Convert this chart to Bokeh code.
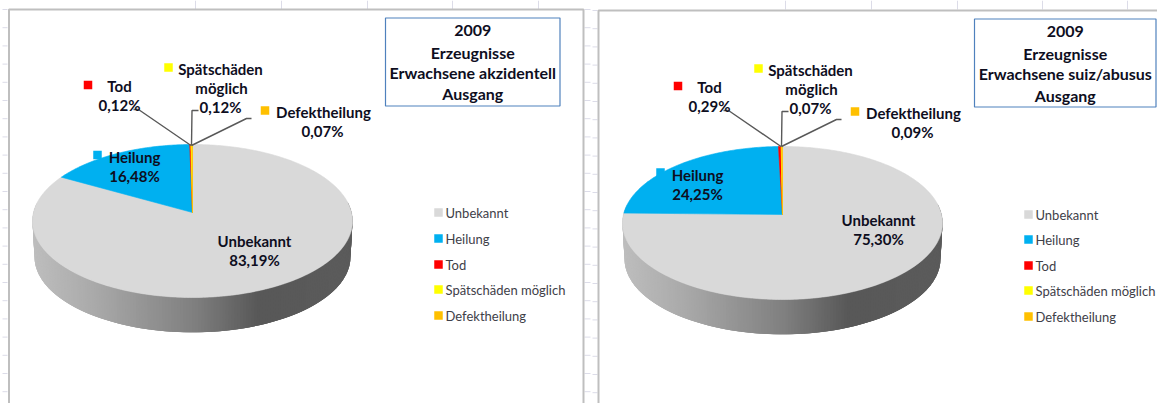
import numpy as np
from bokeh.plotting import figure
from bokeh.models import Range1d
from bokeh.core.properties import value
from bokeh.embed import file_html
from bokeh.resources import INLINE

categories = ["Unbekannt", "Heilung", "Tod", "Spätschäden möglich", "Defektheilung"]
colors = ["#D9D9D9", "#00B0F0", "#FF0000", "#FFFF00", "#FFC000"]
values_a = [83.19, 16.48, 0.12, 0.12, 0.07]
values_b = [75.30, 24.25, 0.29, 0.07, 0.09]
labels_a = ["83,19%", "16,48%", "0,12%", "0,12%", "0,07%"]
labels_b = ["75,30%", "24,25%", "0,29%", "0,07%", "0,09%"]
title_a = ["2009", "Erzeugnisse", "Erwachsene akzidentell", "Ausgang"]
title_b = ["2009", "Erzeugnisse", "Erwachsene suiz/abusus", "Ausgang"]

FONT = value("Lato")
p = figure(width=1157, height=403, output_backend="svg", toolbar_location=None,
           x_range=Range1d(0, 1157), y_range=Range1d(403, 0), min_border=0)
p.axis.visible = False
p.grid.visible = False
p.outline_line_color = None
p.background_fill_color = "white"

# sheet grid round the two chart frames
GRID = "#DCDCE8"
ty = np.arange(5, 415, 18.2)
p.segment([2] * len(ty), ty + 4, [7] * len(ty), ty + 4, line_color=GRID, line_width=1)
p.segment([584] * len(ty), ty + 4, [590] * len(ty), ty + 4, line_color=GRID, line_width=1)
p.segment([592] * len(ty), ty + 5, [597] * len(ty), ty + 5, line_color=GRID, line_width=1)
tx = [195, 281, 367, 452, 538, 785, 871, 957, 1042, 1127]
p.segment(tx, [0] * len(tx), tx, [9] * len(tx), line_color=GRID, line_width=1)

# chart frames
FRAME = "#BFBFBF"
p.multi_line([[8.5, 8.5, 583, 583], [598, 598, 1165]],
             [[420, 9, 9, 420], [420, 10, 10]], line_color=FRAME, line_width=2)


def project(ang, cx, cy, rx=159.0, a=75.56, k=1 / 9):
    """Clockwise angle from 12 o'clock (radians) to the tilted pie's screen plane."""
    X, Z = np.sin(ang), np.cos(ang)
    d = 1 + k * Z
    return cx + rx * X / d, cy - a * Z / d


def lerp_grey(x, x0):
    stops_x = [0, 60, 160, 225, 320]
    stops_v = [190, 170, 128, 88, 92]
    v = int(np.interp(x - x0, stops_x, stops_v))
    return f"#{v:02x}{v:02x}{v:02x}"


def draw_pie(vals, cx, cy, depth=36.0):
    # side wall: strips ordered left to right, each overlapping the next
    edges = np.radians(np.linspace(278, 82, 201))
    xs, ys, cs = [], [], []
    for i in range(len(edges) - 1):
        a0, a1 = edges[i], edges[min(i + 3, len(edges) - 1)]
        xt0, yt0 = project(a0, cx, cy)
        xt1, yt1 = project(a1, cx, cy)
        xb0, yb0 = project(a0, cx, cy + depth, rx=157.0, a=74.5)
        xb1, yb1 = project(a1, cx, cy + depth, rx=157.0, a=74.5)
        xs.append([xt0, xt1, xb1, xb0])
        ys.append([yt0, yt1, yb1, yb0])
        cs.append(lerp_grey(xt0, cx - 160))
    p.patches(xs, ys, fill_color=cs, line_color=None)
    # top face, slices run clockwise from 12 o'clock
    total = sum(vals)
    start = 0.0
    for v, col in zip(vals, colors):
        stop = start + v / total * 2 * np.pi
        ang = np.linspace(start, stop, max(3, int(v * 4)))
        ex, ey = project(ang, cx, cy)
        p.patch(np.r_[cx, ex], np.r_[cy, ey], fill_color=col, line_color=col, line_width=0.6)
        start = stop


def draw_text(x, y, lines, size="15px", bold=True, color="#0E0E1E", align="center"):
    p.text(x, y, text=lines, text_font=FONT, text_font_size=size,
           text_font_style="bold" if bold else "normal", text_color=color,
           text_align=align, text_baseline="middle")


def draw_labels(dx, dy, lab, heil, unb, keyh, keyu):
    LEAD = "#595959"
    ax, ay = 190.5 + dx, 145 + dy
    p.line([ax, 138 + dx, 133 + dx], [ay, 109 + dy, 109 + dy], line_color=LEAD, line_width=1.4)
    p.line([ax + .5, 191.5 + dx, 198 + dx], [ay, 110 + dy, 110 + dy], line_color=LEAD, line_width=1.4)
    p.line([ax + .5, 246 + dx, 251 + dx], [ay, 118 + dy, 118 + dy], line_color=LEAD, line_width=1.4)
    draw_text([119 + dx, 119 + dx], [85 + dy, 104 + dy], ["Tod", lab[2]])
    draw_text([220 + dx, 221 + dx, 220 + dx], [68 + dy, 87 + dy, 106 + dy],
              ["Spätschäden", "möglich", lab[3]])
    draw_text([323 + dx, 322 + dx], [111 + dy, 130 + dy], ["Defektheilung", lab[4]])
    draw_text([heil[0], heil[0]], [heil[1], heil[1] + 19], ["Heilung", lab[1]])
    draw_text([unb[0], unb[0]], [unb[1], unb[1] + 19], ["Unbekannt", lab[0]])
    kx = [keyu[0], keyh[0], 87.5 + dx, 168 + dx, 264.5 + dx]
    ky = [keyu[1], keyh[1], 84.5 + dy, 67 + dy, 110 + dy]
    p.rect(kx, ky, width=8.5, height=8.5, fill_color=colors, line_color=None)


def draw_box(x0, x1, y0, y1, lines, ys):
    p.quad(left=[x0], right=[x1], top=[y0], bottom=[y1], fill_color="white",
           line_color="#4F81BD", line_width=1.2)
    draw_text([(x0 + x1) / 2] * 4, ys, lines, size="16px")


def draw_legend(kx, tx_, ys):
    p.rect([kx] * 5, ys, width=8.5, height=8.5, fill_color=colors, line_color=None)
    draw_text([tx_] * 5, ys, categories, size="13px", bold=False, color="#404048", align="left")


draw_pie(values_a, 192, 212)
draw_pie(values_b, 782, 214)
draw_labels(0, 0, labels_a, (134, 156), (254, 240), (97, 154.5), (206, 240))
draw_labels(590, 1, labels_b, (697, 174), (878, 219), (660, 172), (830, 219))
draw_box(385, 559.5, 17.5, 105.5, title_a, [30, 52, 72, 93])
draw_box(974, 1155.5, 18.5, 106.5, title_b, [31, 53, 73, 95])
draw_legend(438, 445, [212, 238, 264, 289, 315])
draw_legend(1028, 1035, [214, 239, 265, 290, 316])

open("out.html", "w").write(file_html(p, INLINE))
